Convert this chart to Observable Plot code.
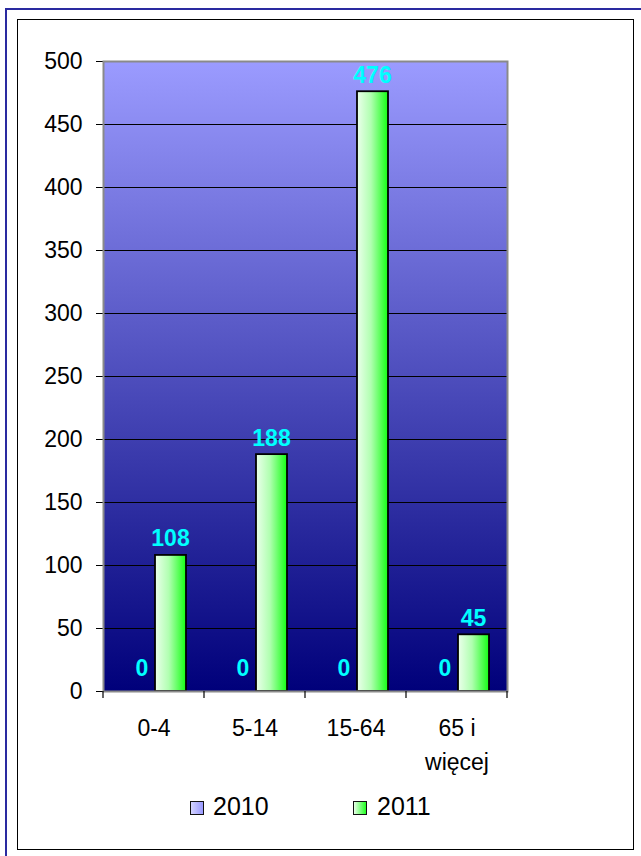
<!DOCTYPE html>
<html>
<head>
<meta charset="utf-8">
<script src="https://cdn.jsdelivr.net/npm/d3@7"></script>
<script src="https://cdn.jsdelivr.net/npm/@observablehq/plot@0.6"></script>
<style>
  html, body { margin: 0; padding: 0; background: white; }
  #wrap { position: relative; width: 641px; height: 856px; overflow: hidden; font-family: "Liberation Sans", Arial, sans-serif; }
  #outer { position: absolute; left: 5px; top: 8px; width: 700px; height: 900px; border: 2.5px solid #2a2aa0; box-sizing: border-box; pointer-events: none; z-index: 2; }
  #inner { position: absolute; left: 17px; top: 19px; width: 617px; height: 831px; border: 1.5px solid #000; box-sizing: border-box; pointer-events: none; z-index: 2; }
  #chart { position: absolute; left: 0; top: 0; z-index: 1; }
  .sw { position: absolute; width: 14px; height: 14px; box-sizing: border-box; border: 1.5px solid #111; z-index: 3; }
  .lt { position: absolute; font-size: 25px; line-height: 1; color: #000; z-index: 3; }
</style>
</head>
<body>
<div id="wrap">
  <div id="outer"></div>
  <div id="inner"></div>
  <div id="chart"></div>
  <div class="sw" style="left:190px; top:801px; background: linear-gradient(to right, #d4d4ff, #9999ff);"></div>
  <div class="lt" id="leg0" style="left:213px; top:794px;"></div>
  <div class="sw" style="left:353px; top:801px; background: linear-gradient(to right, #e8ffe8, #22ff22);"></div>
  <div class="lt" id="leg1" style="left:377px; top:794px;"></div>
</div>
<script>
// ---- data ----
const categories = ["0-4", "5-14", "15-64", "65 i\nwięcej"];
const series = ["2010", "2011"];
const values2010 = [0, 0, 0, 0];
const values2011 = [108, 188, 476, 45];
const yTicks = [0, 50, 100, 150, 200, 250, 300, 350, 400, 450, 500];

const data2010 = categories.map((c, i) => ({category: c, series: series[0], value: values2010[i]}));
const data2011 = categories.map((c, i) => ({category: c, series: series[1], value: values2011[i]}));

document.getElementById("leg0").textContent = series[0];
document.getElementById("leg1").textContent = series[1];

const defs = () => {
  const d = d3.create("svg:defs");
  const bg = d.append("linearGradient").attr("id", "bgGrad").attr("x1", 0).attr("y1", 0).attr("x2", 0).attr("y2", 1);
  bg.append("stop").attr("offset", "0%").attr("stop-color", "#9b9bff");
  bg.append("stop").attr("offset", "100%").attr("stop-color", "#00007a");
  const g = d.append("linearGradient").attr("id", "greenGrad").attr("x1", 0).attr("y1", 0).attr("x2", 1).attr("y2", 0);
  g.append("stop").attr("offset", "0%").attr("stop-color", "#ecffec");
  g.append("stop").attr("offset", "45%").attr("stop-color", "#b0ffb0");
  g.append("stop").attr("offset", "100%").attr("stop-color", "#14ff14");
  const b = d.append("linearGradient").attr("id", "blueGrad").attr("x1", 0).attr("y1", 0).attr("x2", 1).attr("y2", 0);
  b.append("stop").attr("offset", "0%").attr("stop-color", "#d4d4ff");
  b.append("stop").attr("offset", "100%").attr("stop-color", "#9999ff");
  return d.node();
};

const plot = Plot.plot({
  width: 641,
  height: 856,
  marginLeft: 103,
  marginRight: 134,
  marginTop: 61,
  marginBottom: 165,
  style: {fontFamily: "'Liberation Sans', Arial, sans-serif", fontSize: "23px", color: "#000", background: "transparent", overflow: "visible"},
  x: {domain: categories, padding: 0, tickSize: 0, tickPadding: 28, label: null},
  y: {domain: [0, 500], ticks: yTicks, tickSize: 7, tickPadding: 14, label: null},
  marks: [
    defs,
    Plot.frame({fill: "url(#bgGrad)", stroke: "none"}),
    Plot.ruleY(yTicks.filter(t => t > 0 && t < 500), {stroke: "#000", strokeWidth: 1.2}),
    Plot.barY(data2010, {x: "category", y: "value", fill: "url(#blueGrad)", stroke: "#000", strokeWidth: 1.5, insetLeft: 21, insetRight: 49}),
    Plot.barY(data2011, {x: "category", y: "value", fill: "url(#greenGrad)", stroke: "#000", strokeWidth: 1.8, insetLeft: 52, insetRight: 18}),
    Plot.frame({stroke: "#8a8a8a", strokeWidth: 2, fill: "none"}),
    Plot.text(data2010, {x: "category", y: "value", text: d => String(d.value), dx: -12, dy: -16, lineAnchor: "bottom", fill: "#00ffff", fontWeight: "bold", fontSize: 23}),
    Plot.text(data2011, {x: "category", y: "value", text: d => String(d.value), dx: 16.5, dy: -9, lineAnchor: "bottom", fill: "#00ffff", fontWeight: "bold", fontSize: 23})
  ]
});

// category boundary ticks from the band scale
const xs = plot.scale("x");
const ys = plot.scale("y");
const y0 = ys.apply(0);
const bounds = categories.map(c => xs.apply(c)).concat([xs.apply(categories[categories.length - 1]) + xs.bandwidth]);
const svg = d3.select(plot);
svg.append("g").selectAll("line").data(bounds).join("line")
  .attr("x1", d => d).attr("x2", d => d)
  .attr("y1", y0).attr("y2", y0 + 7)
  .attr("stroke", "#000").attr("stroke-width", 1.2);

// wider line spacing for the two-line category label
svg.selectAll("text").each(function() {
  const tspans = this.querySelectorAll("tspan");
  tspans.forEach((t, i) => { if (i > 0) t.setAttribute("dy", "1.5em"); });
});

document.getElementById("chart").appendChild(plot);
</script>
</body>
</html>
